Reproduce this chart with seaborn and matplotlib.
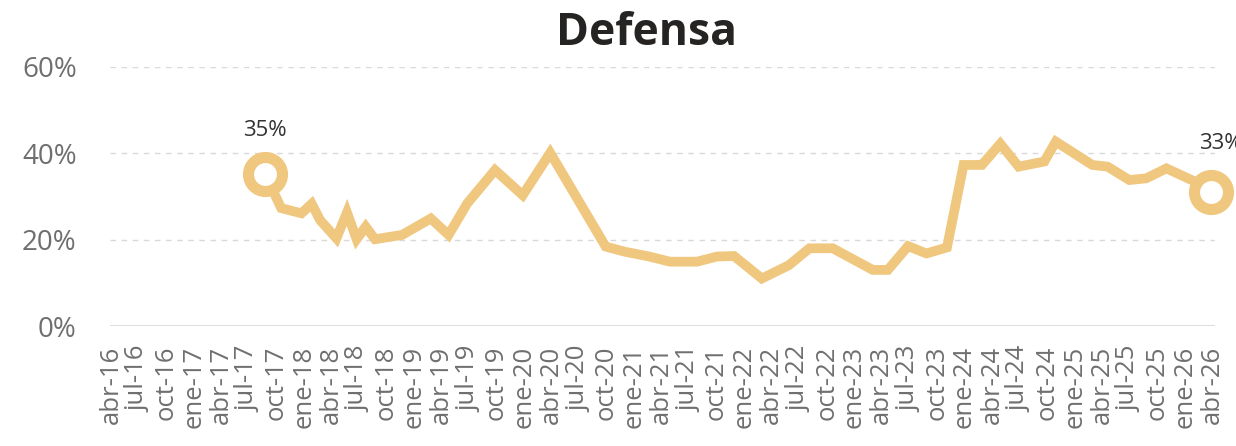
import pandas as pd
import seaborn as sns
import matplotlib.pyplot as plt

# values
dates = ["2017-08-25", "2017-10-18", "2017-12-24", "2018-01-27", "2018-02-24", "2018-04-19",
         "2018-05-24", "2018-06-25", "2018-07-25", "2018-08-25", "2018-11-23", "2019-02-26",
         "2019-04-26", "2019-06-27", "2019-09-27", "2019-12-28", "2020-03-28", "2020-09-28",
         "2020-12-01", "2021-02-19", "2021-04-29", "2021-07-28", "2021-10-03", "2021-11-28",
         "2022-02-28", "2022-05-29", "2022-08-05", "2022-10-21", "2023-03-03", "2023-04-22",
         "2023-06-28", "2023-08-28", "2023-11-04", "2023-12-29", "2024-02-28", "2024-04-29",
         "2024-06-29", "2024-09-22", "2024-10-30", "2025-02-28", "2025-04-20", "2025-07-01",
         "2025-08-26", "2025-11-01", "2026-02-05", "2026-03-28"]
values = [35.2, 27.3, 26.1, 28.3, 24.5, 20.3,
          26.3, 20.1, 23.0, 20.1, 21.1, 24.9,
          21.1, 28.4, 36.1, 30.3, 40.1, 18.4,
          17.2, 16.1, 14.9, 14.9, 16.1, 16.2,
          11.0, 14.1, 18.0, 18.0, 13.0, 13.0,
          18.5, 16.8, 18.2, 37.3, 37.3, 42.2,
          36.9, 38.1, 42.7, 37.3, 36.9, 33.8,
          34.2, 36.5, 33.4, 31.1]

tick_labels = ["abr-16", "jul-16", "oct-16", "ene-17", "abr-17", "jul-17", "oct-17",
               "ene-18", "abr-18", "jul-18", "oct-18", "ene-19", "abr-19", "jul-19",
               "oct-19", "ene-20", "abr-20", "jul-20", "oct-20", "ene-21", "abr-21",
               "jul-21", "oct-21", "ene-22", "abr-22", "jul-22", "oct-22", "ene-23",
               "abr-23", "jul-23", "oct-23", "ene-24", "abr-24", "jul-24", "oct-24",
               "ene-25", "abr-25", "jul-25", "oct-25", "ene-26", "abr-26"]
y_ticks = [0, 20, 40, 60]
end_labels = ["35%", "33%"]

df = pd.DataFrame({"Fecha": pd.to_datetime(dates), "Valor": [v / 100 for v in values]})
tick_dates = pd.date_range("2016-04-01", periods=len(tick_labels), freq="QS-APR")

color = "#F0C77F"

sns.set_style("white")
plt.rcParams["font.family"] = ["Open Sans", "DejaVu Sans"]

fig = plt.figure(figsize=(12.36, 4.46), dpi=100)
ax = fig.add_axes([0.089, 0.269, 0.894, 0.581])

for y in y_ticks[1:]:
    ax.axhline(y / 100, color="#d9d9d9", linestyle=(0, (4, 4)), linewidth=1, zorder=0)
ax.axhline(0, color="#d9d9d9", linewidth=2, zorder=0)

sns.lineplot(data=df, x="Fecha", y="Valor", color=color, linewidth=7, ax=ax,
             solid_joinstyle="miter", solid_capstyle="butt")

ends = df.iloc[[0, -1]]
sns.scatterplot(data=ends, x="Fecha", y="Valor", s=600, facecolor="white", edgecolor=color,
                linewidth=8, ax=ax, zorder=5, clip_on=False)

offsets = [(0, 31), (7, 35)]
for (_, row), lab, off in zip(ends.iterrows(), end_labels, offsets):
    ax.annotate(lab, (row["Fecha"], row["Valor"]), xytext=off, textcoords="offset points",
                ha="center", va="center", fontsize=16, color="#333333", annotation_clip=False)

ax.set_ylim(0, 0.6)
ax.set_xlim(pd.Timestamp("2016-03-29"), pd.Timestamp("2026-04-11"))
ax.set_yticks([y / 100 for y in y_ticks])
ax.set_yticklabels([f"{y}%" for y in y_ticks], fontsize=20, color="#6f6f6f")
ax.set_xticks(tick_dates)
ax.set_xticklabels(tick_labels, rotation=90, fontsize=18.5, color="#6f6f6f", va="top", ha="center")
ax.tick_params(axis="both", length=0)
ax.tick_params(axis="x", pad=14)
ax.tick_params(axis="y", pad=24)
ax.set_xlabel("")
ax.set_ylabel("")
for s in ax.spines.values():
    s.set_visible(False)

fig.suptitle("Defensa", x=0.523, y=0.975, fontsize=32, fontweight="bold", color="#252423")

plt.savefig("out.png", dpi=100)
